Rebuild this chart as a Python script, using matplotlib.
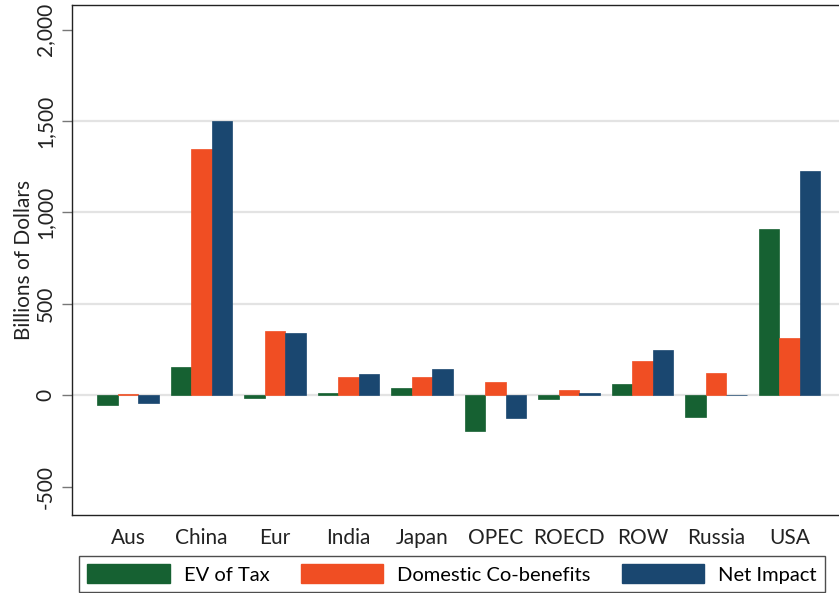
import matplotlib
matplotlib.use('Agg')
import matplotlib.pyplot as plt
import numpy as np
from matplotlib.patches import Patch

# ===== DATA =====
regions = ['Aus', 'China', 'Eur', 'India', 'Japan', 'OPEC', 'ROECD', 'ROW', 'Russia', 'USA']
ev_of_tax = [-53, 157, -13, 13, 42, -196, -22, 64, -119, 910]
co_benefits = [9, 1345, 351, 100, 100, 75, 29, 186, 120, 316]
net_impact = [-44, 1502, 340, 115, 144, -122, 11, 248, 4, 1229]

series_names = ['EV of Tax', 'Domestic Co-benefits', 'Net Impact']
colors = ['#166132', '#F04E23', '#1A4770']

yticks = [-500, 0, 500, 1000, 1500, 2000]
ytick_labels = ['-500', '0', '500', '1,000', '1,500', '2,000']

plt.rcParams['font.family'] = ['Lato', 'DejaVu Sans']
FS = 15

W, H = 839, 593
fig = plt.figure(figsize=(W / 100, H / 100), dpi=100)
ax = fig.add_axes([72 / W, 78 / H, (850 - 72) / W, (588 - 78) / H])

x = np.arange(len(regions))
bw = 0.279
for i, (vals, name, c) in enumerate(zip([ev_of_tax, co_benefits, net_impact], series_names, colors)):
    ax.bar(x + (i - 1) * bw, vals, width=bw, color=c, label=name, zorder=3,
           edgecolor=c, linewidth=0.5)

# gridlines (Stata style: not at the extremes)
for yv in [0, 500, 1000, 1500]:
    ax.axhline(yv, color='#E3E3E3', linewidth=1.6, zorder=1)

ax.set_xlim(-0.762, 9.82)
ax.set_ylim(-655, 2135)
ax.set_yticks(yticks)
ax.set_yticklabels(ytick_labels, rotation=90, va='center', fontsize=FS, color='#222222')
ax.set_xticks(x)
ax.set_xticklabels(regions, fontsize=FS, color='#222222')
ax.tick_params(axis='x', length=0, pad=9)
ax.tick_params(axis='y', length=7, width=1, color='#777777', pad=5)
ax.set_ylabel('Billions of Dollars', fontsize=FS, color='#222222', labelpad=1)

for s in ax.spines.values():
    s.set_color('#222222')
    s.set_linewidth(1)
ax.spines['right'].set_visible(False)

handles = [Patch(facecolor=c, edgecolor=c, label=n) for c, n in zip(colors, series_names)]
leg = fig.legend(handles=handles, loc='upper left', bbox_to_anchor=(79 / W, 1 - 556 / H),
                 ncol=3, fontsize=14.5, frameon=True, fancybox=False, edgecolor='#222222',
                 handlelength=4.1, handleheight=1.1, handletextpad=0.7, columnspacing=1.55,
                 borderpad=0.4, borderaxespad=0)
leg.get_frame().set_linewidth(1)

fig.savefig('out.png', dpi=100)
